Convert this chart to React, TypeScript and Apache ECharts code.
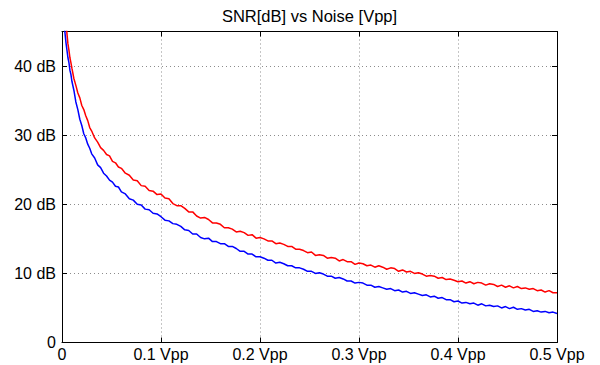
import React, { useEffect, useRef } from "react";
import * as echarts from "echarts";

const TITLE = "SNR[dB] vs Noise [Vpp]";
const X_TICKS = [0, 0.1, 0.2, 0.3, 0.4, 0.5];
const Y_TICKS = [0, 10, 20, 30, 40];

const NOISE_VPP = [
  0.002, 0.003, 0.004, 0.005, 0.006, 0.007, 0.008, 0.009, 0.010, 0.012,
  0.014, 0.016, 0.018, 0.020, 0.022, 0.024, 0.026, 0.028, 0.030, 0.033,
  0.036, 0.039, 0.042, 0.045, 0.048, 0.051, 0.054, 0.057, 0.060, 0.064,
  0.068, 0.072, 0.076, 0.080, 0.084, 0.088, 0.092, 0.096,
  0.100, 0.104, 0.108, 0.112, 0.116, 0.120, 0.124, 0.128, 0.132, 0.136,
  0.140, 0.144, 0.148, 0.152, 0.156, 0.160, 0.164, 0.168, 0.172, 0.176,
  0.180, 0.184, 0.188, 0.192, 0.196, 0.200, 0.204, 0.208, 0.212, 0.216,
  0.220, 0.224, 0.228, 0.232, 0.236, 0.240, 0.244, 0.248, 0.252, 0.256,
  0.260, 0.264, 0.268, 0.272, 0.276, 0.280, 0.284, 0.288, 0.292, 0.296,
  0.300, 0.304, 0.308, 0.312, 0.316, 0.320, 0.324, 0.328, 0.332, 0.336,
  0.340, 0.344, 0.348, 0.352, 0.356, 0.360, 0.364, 0.368, 0.372, 0.376,
  0.380, 0.384, 0.388, 0.392, 0.396, 0.400, 0.404, 0.408, 0.412, 0.416,
  0.420, 0.424, 0.428, 0.432, 0.436, 0.440, 0.444, 0.448, 0.452, 0.456,
  0.460, 0.464, 0.468, 0.472, 0.476, 0.480, 0.484, 0.488, 0.492, 0.496,
  0.500,
];

const SNR_RED = [
  52.0, 49.0, 46.6, 44.7, 43.2, 42.3, 41.2, 40.5, 39.7, 38.2,
  37.2, 36.1, 35.4, 34.3, 33.7, 32.8, 32.1, 31.1, 30.6, 29.6,
  29.0, 28.2, 27.8, 27.2, 27.0, 26.2, 26.0, 25.4, 25.2, 24.5,
  24.2, 23.5, 23.4, 22.7, 22.6, 22.0, 21.9, 21.4,
  21.5, 20.9, 20.8, 20.1, 19.8, 19.8, 19.4, 18.9, 18.9, 18.3,
  18.0, 18.1, 17.8, 17.3, 17.3, 17.1, 16.6, 16.6, 16.4, 16.0,
  16.1, 15.9, 15.5, 15.6, 15.1, 15.2, 15.0, 14.7, 14.7, 14.3,
  14.4, 14.2, 13.9, 13.9, 13.5, 13.5, 13.3, 13.0, 13.1, 12.6,
  12.7, 12.6, 12.2, 12.3, 12.2, 11.8, 12.0, 11.7, 11.7, 11.3,
  11.5, 11.4, 11.1, 11.2, 10.9, 11.1, 10.9, 10.6, 10.8, 10.7,
  10.3, 10.5, 10.2, 10.3, 10.0, 10.1, 9.9, 9.6, 9.7, 9.6,
  9.3, 9.4, 9.1, 9.2, 9.0, 8.8, 8.9, 8.6, 8.8, 8.5,
  8.7, 8.6, 8.3, 8.5, 8.4, 8.1, 8.3, 8.0, 8.2, 7.9,
  8.1, 7.8, 7.9, 7.7, 7.8, 7.5, 7.6, 7.3, 7.5, 7.2,
  7.2,
];

const SNR_BLUE = [
  46.5, 44.8, 43.4, 42.3, 41.2, 40.5, 39.4, 38.8, 37.8, 36.5,
  34.8, 33.7, 32.3, 31.4, 30.2, 29.6, 28.7, 28.1, 27.3, 26.7,
  25.7, 25.3, 24.5, 24.1, 23.5, 23.2, 22.6, 22.5, 21.8, 21.5,
  20.8, 20.6, 20.0, 19.9, 19.3, 19.2, 18.7, 18.6,
  18.2, 17.7, 17.6, 17.2, 17.1, 16.8, 16.3, 16.2, 15.7, 15.7,
  15.2, 15.0, 15.1, 14.6, 14.6, 14.3, 14.3, 13.9, 13.9, 13.6,
  13.2, 13.2, 12.8, 12.8, 12.4, 12.4, 12.2, 11.9, 11.9, 11.5,
  11.6, 11.4, 11.1, 11.1, 10.8, 10.8, 10.6, 10.3, 10.3, 10.0,
  10.1, 9.9, 9.6, 9.6, 9.3, 9.4, 9.2, 8.9, 8.9, 8.6,
  8.7, 8.6, 8.3, 8.3, 8.0, 8.1, 7.9, 7.7, 7.8, 7.5,
  7.6, 7.3, 7.4, 7.1, 7.2, 7.0, 6.8, 6.9, 6.6, 6.7,
  6.4, 6.5, 6.2, 6.2, 5.9, 6.0, 5.7, 5.8, 5.6, 5.7,
  5.4, 5.6, 5.3, 5.4, 5.2, 5.3, 5.0, 5.2, 4.9, 5.1,
  4.8, 4.9, 4.7, 4.8, 4.5, 4.6, 4.4, 4.5, 4.3, 4.4,
  4.2,
];

const FONT = "'Liberation Sans', Arial, sans-serif";

export default function App() {
  const ref = useRef<HTMLDivElement>(null);

  useEffect(() => {
    if (!ref.current) return;
    const chart = echarts.init(ref.current, undefined, { renderer: "svg" });

    const red = NOISE_VPP.map((x, i) => [x, SNR_RED[i]]);
    const blue = NOISE_VPP.map((x, i) => [x, SNR_BLUE[i]]);

    const xMin = X_TICKS[0];
    const xMax = X_TICKS[X_TICKS.length - 1];
    const xInt = X_TICKS[1] - X_TICKS[0];
    const yInt = Y_TICKS[1] - Y_TICKS[0];

    const grid = { left: 62, right: 43, top: 31.5, bottom: 22.5 };
    const tickFont = 16;

    chart.setOption({
      animation: false,
      backgroundColor: "#fff",
      graphic: [
        {
          type: "text",
          x: 309.5,
          y: 16,
          style: {
            text: TITLE,
            fill: "#000",
            font: `16.5px ${FONT}`,
            textAlign: "center",
            textVerticalAlign: "middle",
          },
        },
      ],
      grid: { ...grid, show: false, containLabel: false },
      xAxis: [
        {
          type: "value",
          min: xMin,
          max: xMax,
          interval: xInt,
          axisLine: { show: true, onZero: false, lineStyle: { color: "#000", width: 1 } },
          axisTick: { show: true, inside: true, length: 5, lineStyle: { color: "#000" } },
          axisLabel: {
            color: "#000",
            fontFamily: FONT,
            fontSize: tickFont,
            margin: 4,
            formatter: (v: number) => (v === 0 ? "0" : `${+v.toFixed(1)} Vpp`),
          },
          splitLine: { show: true, lineStyle: { color: "#8c8c8c", type: [1, 3], width: 1 } },
        },
        {
          type: "value",
          position: "top",
          min: xMin,
          max: xMax,
          interval: xInt,
          axisLine: { show: true, onZero: false, lineStyle: { color: "#000", width: 1 } },
          axisTick: { show: true, inside: true, length: 5, lineStyle: { color: "#000" } },
          axisLabel: { show: false },
          splitLine: { show: false },
        },
      ],
      yAxis: [
        {
          type: "value",
          min: 0,
          max: 45,
          interval: yInt,
          axisLine: { show: true, onZero: false, lineStyle: { color: "#000", width: 1 } },
          axisTick: { show: true, inside: true, length: 5, lineStyle: { color: "#000" } },
          axisLabel: {
            color: "#000",
            fontFamily: FONT,
            fontSize: tickFont,
            margin: 6,
            showMaxLabel: false,
            formatter: (v: number) => (v === 0 ? "0" : v === 45 ? "" : `${v} dB`),
          },
          splitLine: { show: true, lineStyle: { color: "#8c8c8c", type: [1, 3], width: 1 } },
        },
        {
          type: "value",
          position: "right",
          min: 0,
          max: 45,
          interval: yInt,
          axisLine: { show: true, onZero: false, lineStyle: { color: "#000", width: 1 } },
          axisTick: { show: true, inside: true, length: 5, lineStyle: { color: "#000" } },
          axisLabel: { show: false },
          splitLine: { show: false },
        },
      ],
      series: [
        {
          type: "line",
          name: "red",
          data: red,
          xAxisIndex: 0,
          yAxisIndex: 0,
          showSymbol: false,
          symbol: "none",
          clip: true,
          lineStyle: { color: "#ff0000", width: 1.5 },
          z: 3,
        },
        {
          type: "line",
          name: "blue",
          data: blue,
          xAxisIndex: 0,
          yAxisIndex: 0,
          showSymbol: false,
          symbol: "none",
          clip: true,
          lineStyle: { color: "#0000ff", width: 1.5 },
          z: 3,
        },
      ],
    });

    return () => {
      chart.dispose();
    };
  }, []);

  return (
    <div
      ref={ref}
      style={{ position: "fixed", left: 0, top: 0, width: 600, height: 365, background: "#fff" }}
    />
  );
}
